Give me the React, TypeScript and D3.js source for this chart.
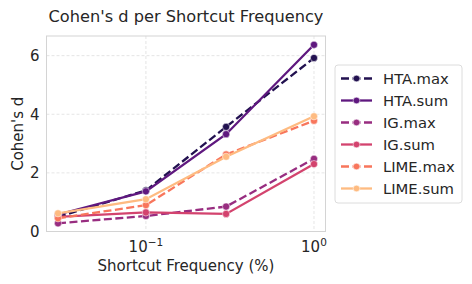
import * as d3 from 'd3';
import React from 'react';

const frequencies = [0.03, 0.1, 0.3, 1.0];
const seriesNames = ['HTA.max', 'HTA.sum', 'IG.max', 'IG.sum', 'LIME.max', 'LIME.sum'];
const htaMax = [0.5, 1.4, 3.57, 5.92];
const htaSum = [0.58, 1.37, 3.32, 6.37];
const igMax = [0.28, 0.53, 0.85, 2.48];
const igSum = [0.5, 0.65, 0.6, 2.3];
const limeMax = [0.45, 0.9, 2.63, 3.78];
const limeSum = [0.62, 1.1, 2.55, 3.93];
const yTicks = [0, 2, 4, 6];
const xTicks = [0.1, 1];
const xTickExponents = ['\u22121', '0'];

const colors = ['#221150', '#5f187f', '#982d80', '#d3436e', '#f8765c', '#febb81'];
const font = 'DejaVu Sans, sans-serif';
const textColor = '#262626';

const W = 472;
const H = 284;
const plot = { left: 46.5, right: 325.5, top: 36, bottom: 231.5 };

const App = () => {
  const allValues = [htaMax, htaSum, igMax, igSum, limeMax, limeSum];
  const series = seriesNames.map((name, i) => ({
    name,
    values: allValues[i],
    color: colors[i],
    dashed: name.endsWith('.max'),
  }));

  const lo = Math.log10(d3.min(frequencies) as number);
  const hi = Math.log10(d3.max(frequencies) as number);
  const pad = (hi - lo) * 0.045;
  const xScale = d3
    .scaleLog()
    .domain([Math.pow(10, lo - pad), Math.pow(10, hi + pad)])
    .range([plot.left, plot.right]);
  const yScale = d3.scaleLinear().domain([0, 6.67]).range([plot.bottom, plot.top]);

  const line = d3
    .line<number>()
    .x((_, i) => xScale(frequencies[i]))
    .y((d) => yScale(d));

  const legend = { x: 335, y: 65, w: 127, h: 138, row: 22 };

  return (
    <svg width={W} height={H} style={{ position: 'absolute', left: 0, top: 0 }} fontFamily={font}>
      <rect x={0} y={0} width={W} height={H} fill="#ffffff" />

      {/* grid */}
      <g stroke="#dedede" strokeWidth={0.8} strokeDasharray="3,2">
        {yTicks.map((t) => (
          <line key={'gy' + t} x1={plot.left} x2={plot.right} y1={yScale(t)} y2={yScale(t)} />
        ))}
        {xTicks.map((t) => (
          <line key={'gx' + t} x1={xScale(t)} x2={xScale(t)} y1={plot.top} y2={plot.bottom} />
        ))}
      </g>

      {/* frame */}
      <rect
        x={plot.left}
        y={plot.top}
        width={plot.right - plot.left}
        height={plot.bottom - plot.top}
        fill="none"
        stroke="#d4d4d4"
        strokeWidth={1}
      />

      {/* tick labels */}
      <g fill={textColor} fontSize={15}>
        {yTicks.map((t) => (
          <text key={'ty' + t} x={plot.left - 7} y={yScale(t)} dy="0.35em" textAnchor="end">
            {t}
          </text>
        ))}
        {xTicks.map((t, i) => (
          <text key={'tx' + t} x={xScale(t)} y={plot.bottom + 20} textAnchor="middle">
            10
            <tspan dy={-6} fontSize={10.5}>
              {xTickExponents[i]}
            </tspan>
          </text>
        ))}
      </g>

      {/* axis labels & title */}
      <text x={(plot.left + plot.right) / 2} y={271} textAnchor="middle" fontSize={15} fill={textColor}>
        Shortcut Frequency (%)
      </text>
      <text
        transform={`translate(23,${(plot.top + plot.bottom) / 2}) rotate(-90)`}
        textAnchor="middle"
        fontSize={15}
        fill={textColor}
      >
        Cohen's d
      </text>
      <text x={(plot.left + plot.right) / 2} y={22} textAnchor="middle" fontSize={16.2} fill={textColor}>
        Cohen's d per Shortcut Frequency
      </text>

      {/* series */}
      {series.map((s) => (
        <g key={s.name}>
          <path
            d={line(s.values) as string}
            fill="none"
            stroke={s.color}
            strokeWidth={2.3}
            strokeDasharray={s.dashed ? '8,3.5' : undefined}
          />
          {s.values.map((v, i) => (
            <circle key={i} cx={xScale(frequencies[i])} cy={yScale(v)} r={3.6} fill={s.color} stroke="#fff" strokeWidth={0.5} />
          ))}
        </g>
      ))}

      {/* legend */}
      <rect x={legend.x} y={legend.y} width={legend.w} height={legend.h} rx={3} fill="#fff" stroke="#dcdcdc" strokeWidth={1} />
      {series.map((s, i) => {
        const cy = legend.y + 13.5 + i * legend.row;
        return (
          <g key={'lg' + s.name}>
            <line
              x1={legend.x + 6}
              x2={legend.x + 37}
              y1={cy}
              y2={cy}
              stroke={s.color}
              strokeWidth={2.3}
              strokeDasharray={s.dashed ? '8,3.5' : undefined}
            />
            <circle cx={legend.x + 21.5} cy={cy} r={3.3} fill={s.color} stroke="#fff" strokeWidth={0.5} />
            <text x={legend.x + 48} y={cy} dy="0.35em" fontSize={14.8} fill={textColor}>
              {s.name}
            </text>
          </g>
        );
      })}
    </svg>
  );
};

export default App;
